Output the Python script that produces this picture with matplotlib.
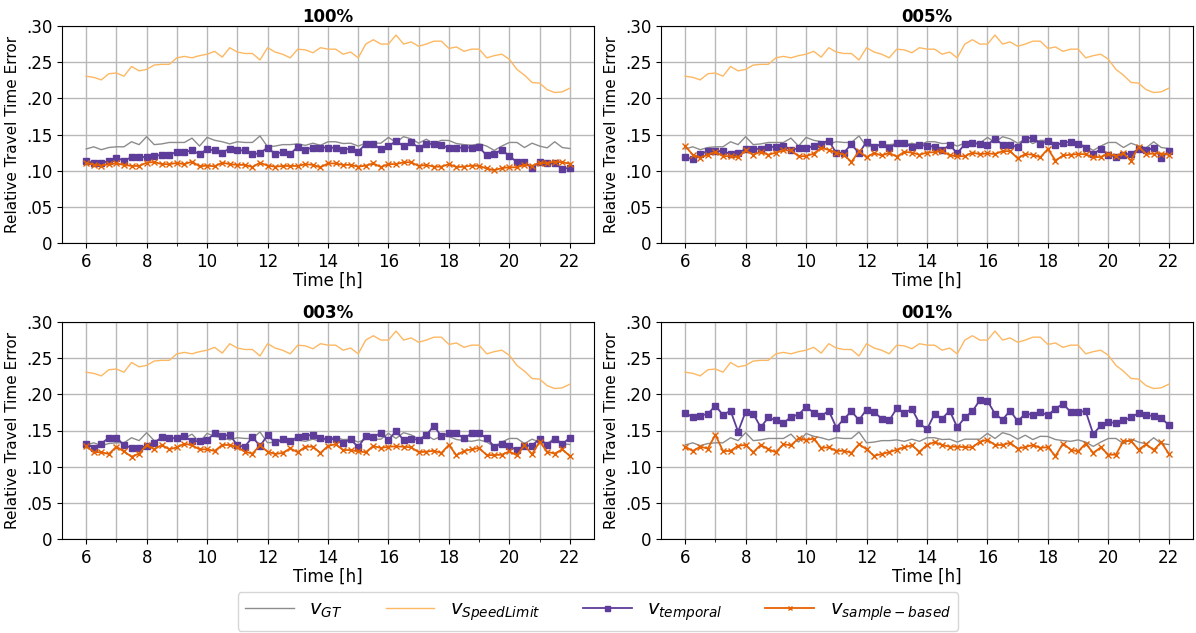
import numpy as np
import matplotlib
matplotlib.use("Agg")
import matplotlib.pyplot as plt
from matplotlib.ticker import MultipleLocator, FuncFormatter

# time axis: 6:00 to 22:00 in 15 minute steps
hours = np.arange(6, 22.001, 0.25)

panel_titles = ["100%", "005%", "003%", "001%"]

v_gt = [0.130, 0.133, 0.129, 0.132, 0.133, 0.133, 0.140, 0.136, 0.147, 0.136, 0.137, 0.139, 0.139,
        0.139, 0.145, 0.134, 0.146, 0.142, 0.140, 0.137, 0.140, 0.139, 0.139, 0.148, 0.133, 0.134,
        0.136, 0.136, 0.137, 0.135, 0.138, 0.135, 0.140, 0.140, 0.1375, 0.138, 0.134, 0.138, 0.138,
        0.138, 0.146, 0.139, 0.147, 0.144, 0.138, 0.1435, 0.1375, 0.142, 0.1417, 0.1375, 0.136, 0.135,
        0.137, 0.134, 0.128, 0.134, 0.139, 0.139, 0.132, 0.138, 0.134, 0.1315, 0.140, 0.132, 0.1306]

v_speedlimit = [0.2306, 0.229, 0.2255, 0.234, 0.235, 0.2306, 0.244, 0.238, 0.240, 0.246, 0.247, 0.247,
                0.256, 0.258, 0.256, 0.259, 0.261, 0.265, 0.257, 0.270, 0.264, 0.262, 0.262, 0.253,
                0.270, 0.264, 0.261, 0.256, 0.268, 0.267, 0.263, 0.270, 0.268, 0.268, 0.261, 0.264,
                0.256, 0.275, 0.281, 0.275, 0.275, 0.2875, 0.275, 0.278, 0.272, 0.275, 0.279, 0.279,
                0.269, 0.271, 0.265, 0.268, 0.268, 0.256, 0.259, 0.261, 0.254, 0.240, 0.232, 0.222,
                0.221, 0.212, 0.208, 0.209, 0.214]

v_temporal_100 = [0.113, 0.1106, 0.111, 0.113, 0.1176, 0.114, 0.1185, 0.1185, 0.119, 0.120, 0.122, 0.122,
                  0.126, 0.126, 0.128, 0.123, 0.1296, 0.128, 0.125, 0.1306, 0.128, 0.128, 0.123, 0.124,
                  0.132, 0.123, 0.126, 0.123, 0.133, 0.129, 0.132, 0.132, 0.132, 0.1315, 0.129, 0.1306,
                  0.126, 0.1375, 0.1366, 0.1296, 0.134, 0.1407, 0.134, 0.139, 0.132, 0.137, 0.137, 0.135,
                  0.1315, 0.1315, 0.132, 0.132, 0.1324, 0.121, 0.123, 0.129, 0.120, 0.112, 0.1116, 0.104,
                  0.112, 0.110, 0.110, 0.1028, 0.1037]
v_sample_100 = [0.111, 0.108, 0.107, 0.109, 0.110, 0.108, 0.1065, 0.1065, 0.111, 0.112, 0.109, 0.109,
                0.1106, 0.109, 0.1125, 0.106, 0.107, 0.106, 0.111, 0.109, 0.108, 0.108, 0.105, 0.111,
                0.107, 0.1055, 0.1065, 0.1065, 0.1065, 0.109, 0.108, 0.1046, 0.110, 0.110, 0.108, 0.108,
                0.1055, 0.107, 0.110, 0.105, 0.109, 0.109, 0.1116, 0.1116, 0.1065, 0.108, 0.1055, 0.1055,
                0.109, 0.105, 0.1055, 0.107, 0.1065, 0.103, 0.1005, 0.1037, 0.1046, 0.1046, 0.108, 0.1065,
                0.111, 0.110, 0.1125, 0.1116, 0.1097]

v_temporal_005 = [0.119, 0.1157, 0.123, 0.127, 0.127, 0.127, 0.1227, 0.125, 0.1296, 0.1306, 0.1296, 0.1324,
                  0.133, 0.1347, 0.1287, 0.131, 0.131, 0.134, 0.1375, 0.1417, 0.124, 0.125, 0.1366, 0.124,
                  0.140, 0.133, 0.1366, 0.131, 0.138, 0.138, 0.133, 0.1356, 0.1345, 0.133, 0.128, 0.1356,
                  0.124, 0.1366, 0.138, 0.137, 0.1356, 0.1444, 0.136, 0.135, 0.133, 0.1444, 0.1458, 0.1375,
                  0.1407, 0.1356, 0.1384, 0.140, 0.1375, 0.131, 0.123, 0.130, 0.122, 0.1194, 0.122, 0.1236,
                  0.1296, 0.128, 0.1315, 0.1176, 0.127]
v_sample_005 = [0.134, 0.122, 0.118, 0.122, 0.126, 0.120, 0.120, 0.1185, 0.128, 0.122, 0.126, 0.122,
                0.125, 0.128, 0.128, 0.120, 0.120, 0.1236, 0.1315, 0.1287, 0.125, 0.122, 0.112, 0.127,
                0.1185, 0.1245, 0.121, 0.1245, 0.1194, 0.126, 0.125, 0.122, 0.125, 0.1255, 0.127, 0.1213,
                0.120, 0.120, 0.125, 0.1227, 0.124, 0.123, 0.127, 0.127, 0.117, 0.123, 0.122, 0.1185,
                0.130, 0.114, 0.121, 0.122, 0.123, 0.1227, 0.1185, 0.119, 0.1236, 0.120, 0.124, 0.114,
                0.133, 0.123, 0.1236, 0.1236, 0.122]

v_temporal_003 = [0.1318, 0.126, 0.1318, 0.140, 0.140, 0.130, 0.126, 0.126, 0.1286, 0.133, 0.1406, 0.140,
                  0.139, 0.1424, 0.135, 0.1355, 0.137, 0.146, 0.1424, 0.144, 0.1295, 0.1276, 0.141, 0.1286,
                  0.1433, 0.1336, 0.138, 0.135, 0.1415, 0.1429, 0.1438, 0.139, 0.1385, 0.1378, 0.133, 0.1378,
                  0.127, 0.1424, 0.1415, 0.1465, 0.137, 0.149, 0.137, 0.1387, 0.137, 0.1433, 0.1567, 0.142,
                  0.1465, 0.146, 0.139, 0.146, 0.146, 0.1396, 0.1276, 0.131, 0.1286, 0.1226, 0.129, 0.129,
                  0.1387, 0.130, 0.1378, 0.131, 0.140]
v_sample_003 = [0.1286, 0.120, 0.120, 0.1175, 0.1276, 0.121, 0.1138, 0.118, 0.130, 0.124, 0.130, 0.124,
                0.1267, 0.1318, 0.1295, 0.124, 0.124, 0.1217, 0.130, 0.130, 0.127, 0.1207, 0.118, 0.1295,
                0.1207, 0.1175, 0.119, 0.1253, 0.120, 0.1276, 0.1276, 0.119, 0.1286, 0.131, 0.123, 0.123,
                0.121, 0.120, 0.1286, 0.1258, 0.1276, 0.128, 0.1276, 0.1267, 0.120, 0.1207, 0.122, 0.119,
                0.130, 0.1157, 0.1217, 0.124, 0.1258, 0.116, 0.116, 0.1166, 0.121, 0.1157, 0.1295, 0.117,
                0.1346, 0.1207, 0.118, 0.124, 0.1147]

v_temporal_001 = [0.1747, 0.168, 0.1707, 0.173, 0.1843, 0.1715, 0.1774, 0.1484, 0.176, 0.1733, 0.1544, 0.168,
                  0.164, 0.160, 0.169, 0.172, 0.1825, 0.1747, 0.170, 0.1774, 0.154, 0.166, 0.1765, 0.1645,
                  0.179, 0.1756, 0.1664, 0.164, 0.1806, 0.174, 0.180, 0.160, 0.1516, 0.173, 0.1664, 0.1774,
                  0.1544, 0.168, 0.1765, 0.192, 0.191, 0.173, 0.165, 0.1774, 0.163, 0.173, 0.172, 0.175,
                  0.1714, 0.180, 0.187, 0.1756, 0.176, 0.1765, 0.145, 0.157, 0.162, 0.160, 0.164, 0.168,
                  0.1742, 0.171, 0.170, 0.167, 0.1576]
v_sample_001 = [0.1276, 0.1217, 0.1276, 0.125, 0.1442, 0.1217, 0.1217, 0.129, 0.130, 0.120, 0.130, 0.124,
                0.120, 0.131, 0.1295, 0.139, 0.137, 0.1387, 0.126, 0.1267, 0.1217, 0.122, 0.119, 0.131,
                0.124, 0.115, 0.1175, 0.120, 0.1235, 0.1267, 0.1295, 0.1207, 0.130, 0.134, 0.130, 0.1276,
                0.1276, 0.127, 0.1267, 0.1346, 0.137, 0.130, 0.130, 0.133, 0.125, 0.127, 0.130, 0.126,
                0.127, 0.1147, 0.132, 0.1235, 0.121, 0.132, 0.119, 0.1267, 0.1166, 0.1166, 0.1355, 0.1355,
                0.1235, 0.131, 0.123, 0.1336, 0.118]

temporal_series = [v_temporal_100, v_temporal_005, v_temporal_003, v_temporal_001]
sample_series = [v_sample_100, v_sample_005, v_sample_003, v_sample_001]

c_gt = "#8c8c8c"
c_sl = "#fdb863"
c_tmp = "#5e3c99"
c_smp = "#e66101"

fig = plt.figure(figsize=(11.96, 6.33), dpi=100)
W, H = 1196, 633
boxes = [(62, 26, 594, 243), (661, 26, 1193, 243), (62, 322, 594, 539), (661, 322, 1193, 539)]

fmt = FuncFormatter(lambda v, p: "0" if abs(v) < 1e-9 else ("%.2f" % v).lstrip("0"))

handles = None
for i, (x0, y0, x1, y1) in enumerate(boxes):
    ax = fig.add_axes([x0 / W, 1 - y1 / H, (x1 - x0) / W, (y1 - y0) / H])
    h1, = ax.plot(hours, v_gt, color=c_gt, lw=1.0, label=r"$v_{GT}$")
    h2, = ax.plot(hours, v_speedlimit, color=c_sl, lw=1.0, label=r"$v_{SpeedLimit}$")
    h3, = ax.plot(hours, temporal_series[i], color=c_tmp, lw=1.3, marker="s", markersize=4.5,
                  label=r"$v_{temporal}$")
    h4, = ax.plot(hours, sample_series[i], color=c_smp, lw=1.3, marker="x", markersize=4,
                  markeredgewidth=1.0, label=r"$v_{sample-based}$")
    handles = [h1, h2, h3, h4]
    ax.set_ylim(0, 0.30)
    ax.set_xlim(5.2, 22.8)
    ax.xaxis.set_major_locator(MultipleLocator(2))
    ax.xaxis.set_minor_locator(MultipleLocator(1))
    ax.yaxis.set_major_locator(MultipleLocator(0.05))
    ax.yaxis.set_major_formatter(fmt)
    ax.grid(True, which="both", color="#b8b8b8", lw=1.0)
    ax.set_axisbelow(True)
    ax.tick_params(axis="both", labelsize=12)
    ax.set_xlabel("Time [h]", fontsize=12, labelpad=1)
    ax.set_ylabel("Relative Travel Time Error", fontsize=11)
    ax.set_title(panel_titles[i], fontsize=12, fontweight="bold", pad=3)

fig.legend(handles=handles, loc="lower center", ncol=4, fontsize=14,
           bbox_to_anchor=(0.5, 0.0), borderaxespad=0.1, handlelength=2.5,
           columnspacing=2.2, markerscale=0.8, frameon=True, fancybox=True)

fig.savefig("out.png", dpi=100)
